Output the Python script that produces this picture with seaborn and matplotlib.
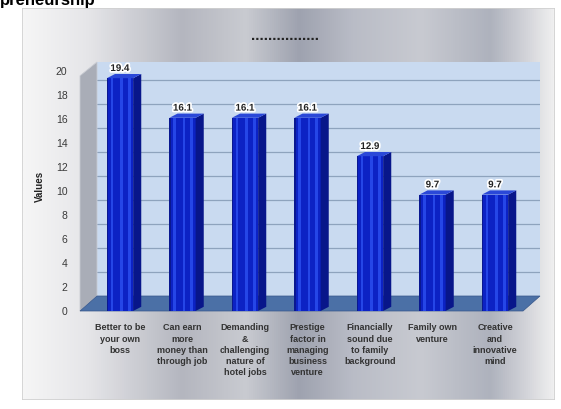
import numpy as np
import matplotlib
matplotlib.use("Agg")
import matplotlib.pyplot as plt
import seaborn as sns
import pandas as pd
from matplotlib.patches import Polygon, Rectangle
from matplotlib.colors import LinearSegmentedColormap
import matplotlib.patheffects as pe

categories = [
    "Better to be\nyour own\nboss",
    "Can earn\nmore\nmoney than\nthrough job",
    "Demanding\n&\nchallenging\nnature of\nhotel jobs",
    "Prestige\nfactor in\nmanaging\nbusiness\nventure",
    "Financially\nsound due\nto family\nbackground",
    "Family own\nventure",
    "Creative\nand\ninnovative\nmind",
]
values = [19.4, 16.1, 16.1, 16.1, 12.9, 9.7, 9.7]
value_labels = ["19.4", "16.1", "16.1", "16.1", "12.9", "9.7", "9.7"]
yticks = [0, 2, 4, 6, 8, 10, 12, 14, 16, 18, 20]
title = "................"
y_label = "Values"

sns.set_theme(style="white")
plt.rcParams["font.family"] = ["Liberation Sans", "DejaVu Sans"]

W, H = 561, 409
fig = plt.figure(figsize=(W / 100, H / 100), dpi=100)
fig.patch.set_facecolor("white")

# metallic background of the chart area
bg = fig.add_axes([22 / W, 1 - 400 / H, (555 - 22) / W, (400 - 8) / H])
stops = [(0.0, "#f6f6f6"), (0.12, "#e6e6e9"), (0.3, "#b4b6bf"), (0.42, "#c9cbd1"),
         (0.52, "#9ea2af"), (0.62, "#b9bcc6"), (0.75, "#c8cad1"), (0.88, "#aeb2bd"),
         (0.95, "#d4d5da"), (1.0, "#f0f0f0")]
cmap = LinearSegmentedColormap.from_list("metal", stops)
grad = np.linspace(0, 1, 512)[None, :]
bg.imshow(np.repeat(grad, 4, axis=0), aspect="auto", cmap=cmap, extent=[0, 1, 0, 1])
bg.set_xlim(0, 1)
bg.set_ylim(0, 1)
bg.axis("off")
bg.add_patch(Rectangle((0, 0), 1, 1, fill=False, ec="#d0d0d0", lw=1.2, transform=bg.transAxes))

# cut-off heading at very top (as in the reference)
fig.text(0.0, 1 - 5 / H, "preneurship", fontsize=12, fontweight="bold", color="black",
         ha="left", va="baseline")

# main axes (front-face coordinates)
ax = fig.add_axes([80 / W, 1 - 311 / H, 460 / W, (311 - 62) / H])
ax.set_facecolor("none")

df = pd.DataFrame({"cat": categories, "val": values})
sns.barplot(data=df, x="cat", y="val", ax=ax, color="#0c22c4", width=0.42,
            saturation=1, zorder=5, edgecolor="none")

x0, x1 = -0.64, 6.72
ax.set_xlim(x0, x1)
ax.set_ylim(0, 20.75)
dx, dy = 0.272, 1.25   # depth offset of the back wall

# back wall
ax.add_patch(Polygon([(x0 + dx, dy), (x1, dy), (x1, 20.75), (x0 + dx, 20.75)],
                     closed=True, fc="#c9daf0", ec="none", zorder=0))
for v in yticks[1:-1]:
    ax.plot([x0 + dx, x1], [v + dy, v + dy], color="#8ea3bd", lw=0.9, zorder=1)
# left side wall
ax.add_patch(Polygon([(x0, 0), (x0 + dx, dy), (x0 + dx, 20.75), (x0, 19.6)],
                     closed=True, fc="#a9adb7", ec="#c8cbd2", lw=0.6, zorder=1,
                     clip_on=False))
# floor
ax.add_patch(Polygon([(x0, 0), (x1 - dx, 0), (x1, dy), (x0 + dx, dy)],
                     closed=True, fc="#4b70a6", ec="#36568a", lw=0.5, zorder=2,
                     clip_on=False))

# 3D look for the bars
bd, bh = 0.13, 0.35
bars = [pp for pp in ax.patches if pp.get_zorder() == 5]
for p in bars:
    bx, bw, hh = p.get_x(), p.get_width(), p.get_height()
    ax.add_patch(Polygon([(bx + bw, 0), (bx + bw + bd, bh), (bx + bw + bd, hh + bh), (bx + bw, hh)],
                         closed=True, fc="#08168a", ec="none", zorder=6))
    ax.add_patch(Polygon([(bx, hh), (bx + bd, hh + bh), (bx + bw + bd, hh + bh), (bx + bw, hh)],
                         closed=True, fc="#2a48d8", ec="none", zorder=6))
    for f in (0.15, 0.5, 0.8):
        ax.add_patch(Rectangle((bx + bw * f, 0), bw * 0.1, hh, fc="#2c50f0", ec="none",
                               alpha=0.8, zorder=6))
    ax.add_patch(Rectangle((bx, 0), bw * 0.06, hh, fc="#0a1890", ec="none", zorder=6))

for i, (v, lab) in enumerate(zip(values, value_labels)):
    ax.text(i, v + 0.85, lab, ha="center", va="center", fontsize=7, fontweight="bold",
            color="#222222", zorder=8,
            path_effects=[pe.withStroke(linewidth=2.5, foreground="white")])

ax.set_yticks(yticks)
ax.set_yticklabels([str(t) for t in yticks], fontsize=7.5, color="#3a3a3a")
ax.tick_params(axis="y", length=0, pad=9)
ax.set_xticks(range(len(categories)))
ax.set_xticklabels(categories, fontsize=6.5, fontweight="bold", color="#333333",
                   linespacing=1.3, va="top")
ax.tick_params(axis="x", length=0, pad=9)
ax.set_xlabel("")
ax.set_ylabel(y_label, fontsize=7, fontweight="bold", color="#222222", labelpad=8)
for s in ax.spines.values():
    s.set_visible(False)

fig.text(285 / W, 1 - 36 / H, title, ha="center", va="center", fontsize=11,
         fontweight="bold", color="#222222")

fig.savefig("out.png", dpi=100)
